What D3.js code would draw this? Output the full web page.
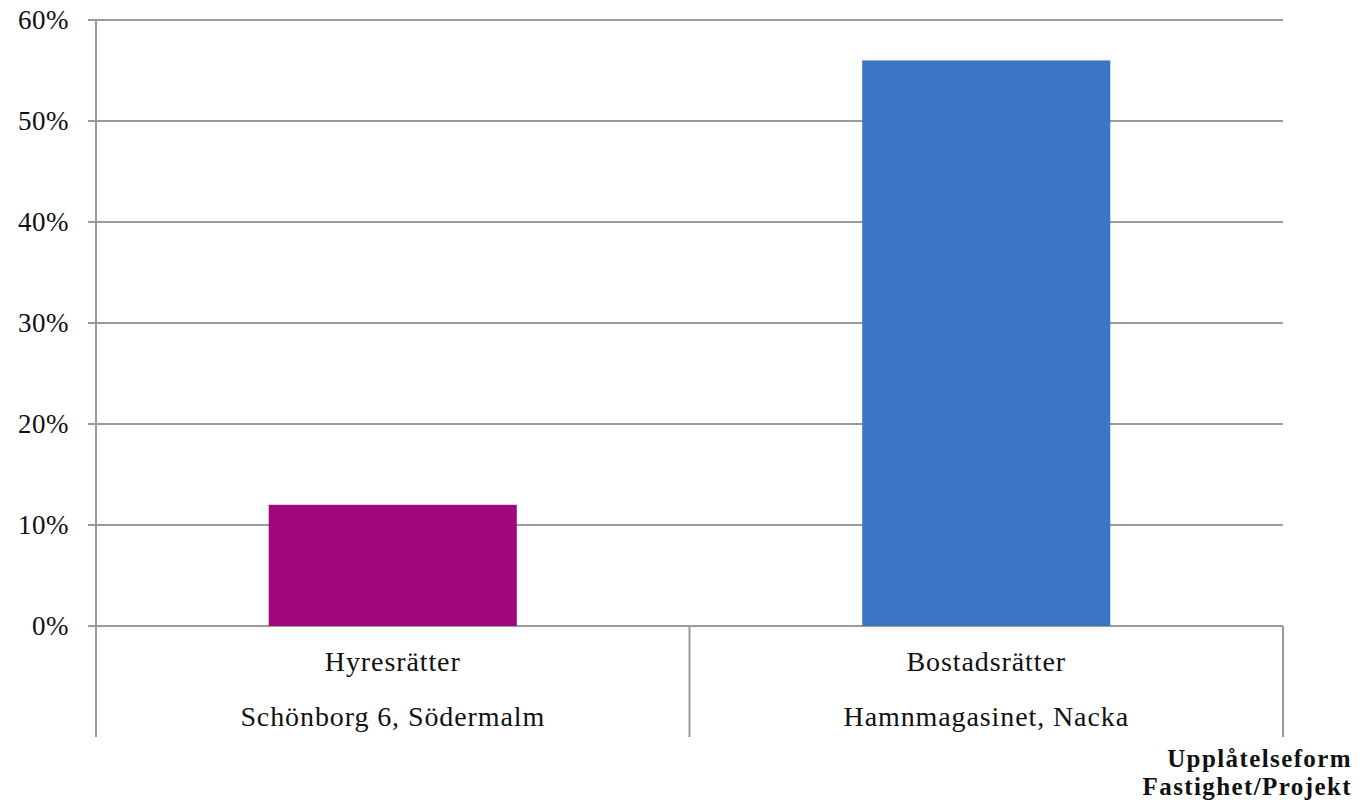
<!DOCTYPE html>
<html>
<head>
<meta charset="utf-8">
<script src="https://cdn.jsdelivr.net/npm/d3@7"></script>
<style>
    body { margin: 0; background: #fff; }
    svg text { font-family: "Liberation Serif", "DejaVu Serif", serif; fill: #111; }
</style>
</head>
<body>
<div id="chart"></div>
<script>
const forms = ["Hyresrätter", "Bostadsrätter"];
const projects = ["Schönborg 6, Södermalm", "Hamnmagasinet, Nacka"];
const shares = [0.12, 0.56];
const barColors = ["#A2077B", "#3A76C4"];
const yTicks = [0, 0.1, 0.2, 0.3, 0.4, 0.5, 0.6];
const axisTitle = ["Upplåtelseform", "Fastighet/Projekt"];

const W = 1369, H = 804,
    plotL = 96, plotR = 1283, plotT = 20, plotB = 626,
    grid = "#9a9a9a";

const svg = d3.select("#chart").append("svg")
    .attr("width", W).attr("height", H);

const x = d3.scaleBand().domain(forms).range([plotL, plotR]).paddingInner(0).paddingOuter(0);
const y = d3.scaleLinear().domain([0, 0.6]).range([plotB, plotT]);
const barW = x.bandwidth() * 0.418;

// gridlines + ticks
svg.append("g").selectAll("line").data(yTicks).join("line")
    .attr("x1", plotL - 8).attr("x2", plotR)
    .attr("y1", d => y(d)).attr("y2", d => y(d))
    .attr("stroke", grid).attr("stroke-width", 2);

svg.append("g").selectAll("text").data(yTicks).join("text")
    .attr("x", 69).attr("y", d => y(d))
    .attr("dy", "0.35em").attr("text-anchor", "end")
    .attr("font-size", 27).attr("letter-spacing", 0.5)
    .text(d => d3.format(".0%")(d));

// bars
svg.append("g").selectAll("rect").data(forms).join("rect")
    .attr("x", d => x(d) + (x.bandwidth() - barW) / 2)
    .attr("width", barW)
    .attr("y", (d, i) => y(shares[i]))
    .attr("height", (d, i) => y(0) - y(shares[i]))
    .attr("fill", (d, i) => barColors[i]);

// axis lines
svg.append("line").attr("x1", plotL).attr("x2", plotL)
    .attr("y1", plotT).attr("y2", 737)
    .attr("stroke", grid).attr("stroke-width", 2);

const dividers = [x(forms[1]), plotR];
svg.append("g").selectAll("line").data(dividers).join("line")
    .attr("x1", d => d).attr("x2", d => d)
    .attr("y1", plotB).attr("y2", 737)
    .attr("stroke", grid).attr("stroke-width", 2);

// category labels, two levels
svg.append("g").selectAll("text").data(forms).join("text")
    .attr("x", d => x(d) + x.bandwidth() / 2).attr("y", 671)
    .attr("text-anchor", "middle").attr("font-size", 28).attr("letter-spacing", 0.9)
    .text(d => d);

svg.append("g").selectAll("text").data(projects).join("text")
    .attr("x", (d, i) => x(forms[i]) + x.bandwidth() / 2).attr("y", 726)
    .attr("text-anchor", "middle").attr("font-size", 28).attr("letter-spacing", 0.9)
    .text(d => d);

// axis title
svg.append("g").selectAll("text").data(axisTitle).join("text")
    .attr("x", 1352).attr("y", (d, i) => 767 + i * 28)
    .attr("text-anchor", "end").attr("font-size", 25).attr("font-weight", "bold")
    .attr("letter-spacing", 1.4)
    .text(d => d);
</script>
</body>
</html>
